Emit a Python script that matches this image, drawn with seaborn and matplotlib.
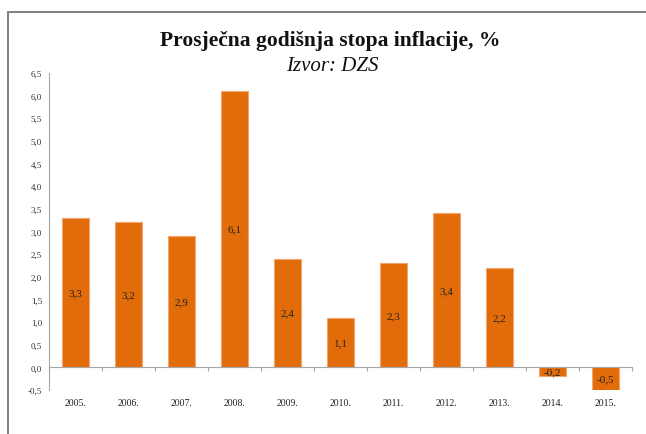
import matplotlib
matplotlib.use("Agg")
import matplotlib.pyplot as plt
from matplotlib.patches import Rectangle
from matplotlib.ticker import FixedLocator, FuncFormatter
import seaborn as sns
import pandas as pd
import numpy as np

years = ["2005.", "2006.", "2007.", "2008.", "2009.", "2010.",
         "2011.", "2012.", "2013.", "2014.", "2015."]
inflation = [3.3, 3.2, 2.9, 6.1, 2.4, 1.1, 2.3, 3.4, 2.2, -0.2, -0.5]
y_ticks = [-0.5, 0.0, 0.5, 1.0, 1.5, 2.0, 2.5, 3.0, 3.5, 4.0, 4.5, 5.0, 5.5, 6.0, 6.5]

title = "Prosječna godišnja stopa inflacije, %"
subtitle = "Izvor: DZS"

sns.set_theme(style="white")
plt.rcParams["font.family"] = ["Liberation Serif", "DejaVu Serif"]

df = pd.DataFrame({"godina": years, "stopa": inflation})

fig = plt.figure(figsize=(6.46, 4.35), dpi=100)
ax = fig.add_axes([0.0759, 0.101, 0.9025, 0.729])

sns.barplot(data=df, x="godina", y="stopa", color="#E36C0A",
            width=0.51, saturation=1, edgecolor="#F4A46E", linewidth=0.8, ax=ax)

def comma(v):
    return f"{v:.1f}".replace(".", ",")

for c in ax.containers:
    ax.bar_label(c, labels=[comma(v) for v in inflation], label_type="center",
                 fontsize=8, color="#222222")

ax.set_ylim(-0.5, 6.5)
ax.set_xlim(-0.5, len(years) - 0.5)
ax.yaxis.set_major_locator(FixedLocator(y_ticks))
ax.yaxis.set_major_formatter(FuncFormatter(lambda v, p: comma(v)))
ax.set_xlabel("")
ax.set_ylabel("")

for s in ["top", "right"]:
    ax.spines[s].set_visible(False)
ax.spines["left"].set_color("#A6A6A6")
ax.spines["left"].set_linewidth(0.8)
ax.spines["bottom"].set_position(("data", 0))
ax.spines["bottom"].set_color("#A6A6A6")
ax.spines["bottom"].set_linewidth(0.8)

ax.tick_params(axis="y", which="major", direction="out", length=3,
               color="#A6A6A6", width=0.8, labelsize=6.5, labelcolor="#333333", pad=2)
ax.xaxis.set_minor_locator(FixedLocator(np.arange(-0.5, len(years), 1.0)))
ax.tick_params(axis="x", which="minor", direction="out", length=3,
               color="#A6A6A6", width=0.8, bottom=True)
ax.tick_params(axis="x", which="major", length=0, labelsize=7,
               labelcolor="#222222", pad=22)

fig.text(0.511, 0.906, title, ha="center", va="center",
         fontsize=15.5, fontweight="bold", color="#111111")
fig.text(0.514, 0.848, subtitle, ha="center", va="center",
         fontsize=15, fontstyle="italic", color="#111111")

fig.patches.append(Rectangle((0.0124, -0.05), 1.1, 1.02, transform=fig.transFigure,
                             fill=False, edgecolor="#7F7F7F", linewidth=1.4))

fig.savefig("out.png", dpi=100)
